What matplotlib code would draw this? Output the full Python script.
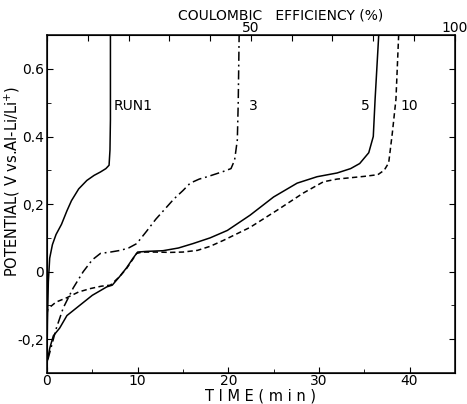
import matplotlib.pyplot as plt
from matplotlib.ticker import MultipleLocator, FixedLocator, FixedFormatter

# Time (min) and potential (V vs. Al-Li/Li+) for each run
run1_t = [0, 0.05, 0.15, 0.3, 0.6, 1.0, 1.6, 2.2, 2.7, 3.5, 4.4, 5.2, 5.9, 6.5, 6.85, 6.95, 7.0, 7.0]
run1_v = [-0.26, -0.15, -0.03, 0.04, 0.08, 0.11, 0.14, 0.18, 0.21, 0.245, 0.27, 0.285, 0.295,
          0.305, 0.315, 0.36, 0.45, 0.70]

run3_t = [0.1, 0.5, 1.0, 1.8, 2.9, 4.0, 5.0, 5.9, 7.0, 8.1, 9.0, 9.9, 11.0, 12.0, 13.0, 14.0,
          15.0, 15.8, 16.8, 17.7, 19.4, 20.3, 20.7, 21.0, 21.1, 21.2]
run3_v = [-0.26, -0.22, -0.17, -0.107, -0.048, 0.0, 0.035, 0.054, 0.058, 0.063, 0.07, 0.083,
          0.12, 0.155, 0.185, 0.215, 0.24, 0.262, 0.274, 0.281, 0.296, 0.305, 0.33, 0.39, 0.5, 0.70]

run5_t = [0, 0.3, 0.7, 1.4, 2.2, 3.6, 5.0, 6.6, 7.2, 8.0, 8.8, 9.5, 10.0, 11.0, 12.8, 14.5, 16.1,
          18.0, 19.9, 22.4, 25.0, 27.6, 29.8, 32.0, 33.5, 34.5, 35.5, 36.0, 36.2, 36.6]
run5_v = [-0.27, -0.227, -0.19, -0.167, -0.13, -0.1, -0.07, -0.045, -0.04, -0.015, 0.012, 0.04,
          0.058, 0.06, 0.062, 0.07, 0.083, 0.1, 0.122, 0.167, 0.221, 0.262, 0.281, 0.292, 0.305,
          0.32, 0.352, 0.40, 0.51, 0.70]

run10_t = [0, 0.1, 1.0, 2.2, 3.5, 4.8, 6.0, 7.0, 8.0, 8.8, 9.9, 10.5, 12.0, 13.6, 15.0, 16.6,
           18.0, 19.5, 22.4, 25.4, 28.3, 30.5, 32.0, 33.5, 35.0, 36.5, 37.2, 37.7, 38.1, 38.5, 38.8]
run10_v = [-0.125, -0.11, -0.09, -0.077, -0.06, -0.05, -0.043, -0.04, -0.015, 0.01, 0.054, 0.058,
           0.058, 0.057, 0.058, 0.063, 0.075, 0.093, 0.131, 0.182, 0.233, 0.266, 0.274, 0.278,
           0.282, 0.287, 0.30, 0.322, 0.41, 0.51, 0.70]

# Labels written next to each curve: (text, time, potential)
run_labels = [("RUN1", 7.3, 0.49), ("3", 22.3, 0.49), ("5", 34.6, 0.49), ("10", 39.0, 0.49)]

y_ticks = [-0.2, 0, 0.2, 0.4, 0.6]
y_tick_labels = ["-0,2", "0", "0,2", "0.4", "0.6"]
eff_ticks = [0, 10, 20, 30, 40, 50, 60, 70, 80, 90, 100]
eff_tick_labels = ["", "", "", "", "", "50", "", "", "", "", "100"]

plt.rcParams['font.family'] = 'DejaVu Sans'

fig = plt.figure(figsize=(4.67, 4.04), dpi=100)
ax = fig.add_axes([0.1006, 0.0767, 0.8734, 0.8363])

lw = 1.1
ax.plot(run1_t, run1_v, color='black', lw=lw)
ax.plot(run3_t, run3_v, color='black', lw=lw, dashes=[6, 2.5, 1.2, 2.5])
ax.plot(run5_t, run5_v, color='black', lw=lw)
ax.plot(run10_t, run10_v, color='black', lw=lw, dashes=[3.5, 2.2])

for text, t, v in run_labels:
    ax.text(t, v, text, fontsize=10, ha='left', va='center')

ax.set_xlim(0, 45)
ax.set_ylim(-0.3, 0.7)
ax.xaxis.set_major_locator(MultipleLocator(10))
ax.xaxis.set_minor_locator(MultipleLocator(5))
ax.yaxis.set_major_locator(FixedLocator(y_ticks))
ax.yaxis.set_major_formatter(FixedFormatter(y_tick_labels))
ax.yaxis.set_minor_locator(MultipleLocator(0.1))
ax.tick_params(which='both', direction='in', labelsize=10, right=True)
ax.tick_params(which='major', length=4, pad=2)
ax.tick_params(axis='x', which='major', pad=1)
ax.tick_params(which='minor', length=3)
for s in ax.spines.values():
    s.set_linewidth(1.1)

# Coulombic efficiency scale along the top edge
top = ax.twiny()
top.set_xlim(0, 100)
top.xaxis.set_major_locator(FixedLocator(eff_ticks))
top.xaxis.set_major_formatter(FixedFormatter(eff_tick_labels))
top.tick_params(direction='in', length=4, labelsize=10, pad=0)

fig.text(0.60, 0.962, "COULOMBIC   EFFICIENCY (%)", fontsize=10, ha='center', va='center')
fig.text(0.557, 0.019, "T I M E ( m i n )", fontsize=10.5, ha='center', va='center')
fig.text(0.027, 0.55, "POTENTIAL( V vs.Al-Li/Li$^{+}$)", fontsize=10.5, rotation=90,
         ha='center', va='center')

fig.savefig("out.png", dpi=100)
